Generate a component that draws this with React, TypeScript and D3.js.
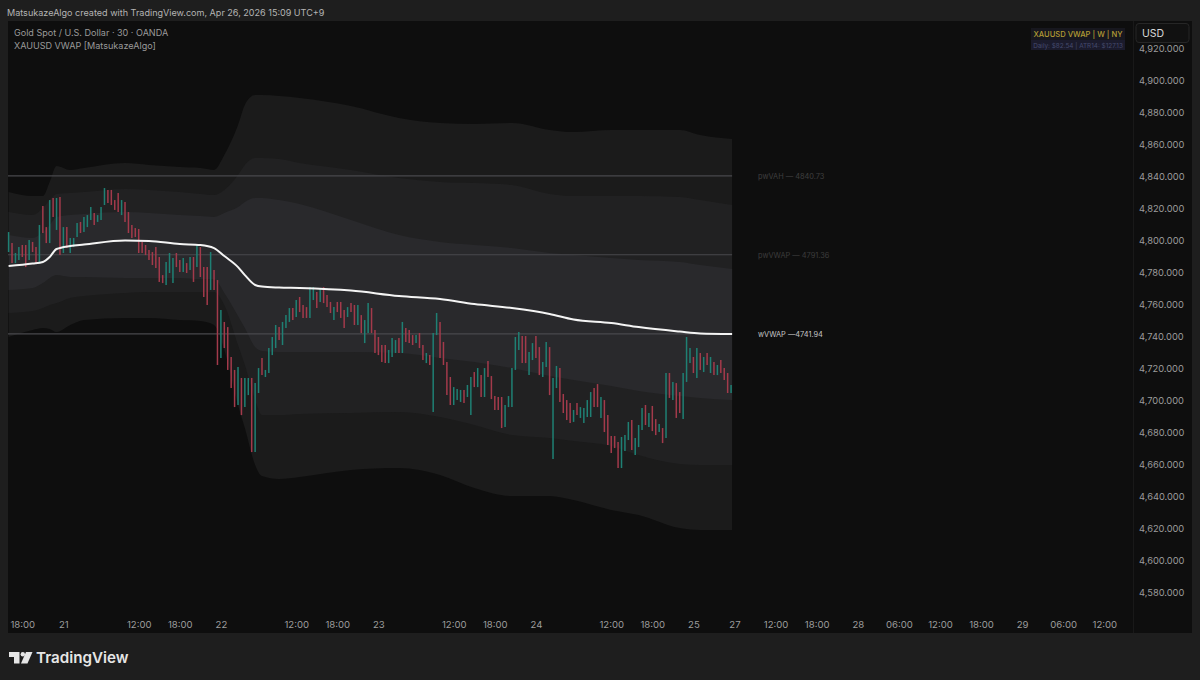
import * as d3 from "d3";
import { useEffect, useRef } from "react";

// 30 minute bars
const barHigh = [
  4805.6, 4798.7, 4792.5, 4796.2, 4797.5, 4797.5, 4800.6, 4799.4, 4796.2, 4810, 4821.9, 4808.7, 4825.6, 4826.9, 4826.9, 4827.5,
  4808.7, 4808.7, 4801.9, 4801.9, 4811.2, 4811.9, 4815, 4816.2, 4821.2, 4817.5, 4816.2, 4821.2, 4833.1, 4831.9, 4831.9, 4825.6,
  4830, 4825.6, 4824.4, 4818.1, 4810, 4808.1, 4807.5, 4799.4, 4797.5, 4794.4, 4793.1, 4796.2, 4790, 4778.7, 4786.9, 4792.5,
  4789.4, 4792.5, 4788.1, 4789.4, 4786.2, 4790, 4790, 4797.5, 4796.2, 4783.7, 4783.7, 4793.1, 4781.9, 4775.6, 4756.9, 4749.4,
  4746.2, 4727.5, 4719.4, 4721.2, 4714.4, 4714.4, 4714.4, 4714.4, 4711.2, 4720.6, 4726.9, 4719.4, 4733.1, 4740, 4747.5, 4746.2,
  4749.4, 4753.7, 4758.1, 4758.1, 4763.1, 4765, 4760, 4758.7, 4771.2, 4771.2, 4768.1, 4770.6, 4771.2, 4766.2, 4761.9, 4758.7,
  4761.9, 4761.9, 4756.9, 4758.7, 4761.2, 4760, 4760, 4753.7, 4750.6, 4761.2, 4758.1, 4744.4, 4740, 4735, 4735, 4731.9,
  4739.4, 4738.1, 4739.4, 4749.4, 4745.6, 4744.4, 4741.2, 4741.2, 4742.5, 4735, 4730, 4728.7, 4742.5, 4755, 4749.4, 4736.9,
  4724.4, 4715, 4708.7, 4707.5, 4706.9, 4706.9, 4710, 4715, 4718.1, 4720.6, 4716.2, 4720.6, 4725, 4715.6, 4703.1, 4702.5,
  4702.5, 4697.5, 4703.1, 4720.6, 4740, 4743.1, 4740.6, 4740.6, 4730.6, 4736.2, 4740.6, 4733.7, 4724.4, 4736.9, 4733.7, 4714.4,
  4721.9, 4720.6, 4704.4, 4700.6, 4698.7, 4694.4, 4698.7, 4696.2, 4695.6, 4700.6, 4705.6, 4708.1, 4710.6, 4702.5, 4700.6, 4691.2,
  4678.1, 4678.1, 4674.4, 4677.5, 4678.7, 4686.9, 4688.1, 4676.9, 4685, 4695.6, 4697.5, 4692.5, 4696.9, 4688.7, 4685.6, 4683.1,
  4717.5, 4717.5, 4711.9, 4711.2, 4705.6, 4717.5, 4740, 4733.1, 4727.5, 4733.1, 4730, 4727.5, 4730, 4727.5, 4724.4, 4722.5,
  4725.6, 4720.6, 4717.5, 4710,
];
const barLow = [
  4793.1, 4786.2, 4786.2, 4788.1, 4790, 4783.7, 4788.1, 4793.1, 4786.2, 4786.9, 4805, 4798.7, 4798.7, 4815, 4806.9, 4791.2,
  4792.5, 4795.6, 4792.5, 4796.2, 4802.5, 4805, 4805.6, 4808.7, 4813.1, 4810, 4811.9, 4813.1, 4822.5, 4823.7, 4822.5, 4819.4,
  4818.1, 4816.2, 4811.9, 4805, 4801.9, 4802.5, 4792.5, 4792.5, 4791.2, 4788.1, 4785, 4783.1, 4774.4, 4773.7, 4772.5, 4780,
  4773.7, 4783.7, 4780.6, 4780.6, 4780, 4781.9, 4774.4, 4783.7, 4777.5, 4765, 4760, 4769.4, 4769.4, 4722.5, 4726.9, 4733.1,
  4719.4, 4708.1, 4696.2, 4697.5, 4691.2, 4696.2, 4703.7, 4668.1, 4668.1, 4705, 4716.2, 4715, 4717.5, 4728.7, 4733.1, 4738.1,
  4735, 4745.6, 4749.4, 4750.6, 4752.5, 4755.6, 4751.9, 4751.9, 4751.9, 4763.1, 4758.1, 4761.9, 4761.2, 4758.7, 4755, 4750.6,
  4755.6, 4751.9, 4745.6, 4752.5, 4755.6, 4747.5, 4747.5, 4742.5, 4736.2, 4742.5, 4742.5, 4730, 4728.7, 4724.4, 4723.7, 4723.7,
  4727.5, 4730, 4730, 4730, 4736.9, 4736.2, 4735, 4736.2, 4733.1, 4725.6, 4723.7, 4722.5, 4693.1, 4741.2, 4726.9, 4722.5,
  4703.7, 4697.5, 4697.5, 4700.6, 4699.4, 4698.7, 4702.5, 4691.2, 4708.7, 4708.7, 4702.5, 4702.5, 4715, 4701.2, 4694.4, 4694.4,
  4683.1, 4683.7, 4696.2, 4696.2, 4719.4, 4731.9, 4723.7, 4723.7, 4716.2, 4725.6, 4726.9, 4716.2, 4715, 4721.2, 4703.7, 4663.7,
  4708.1, 4699.4, 4692.5, 4688.1, 4686.2, 4686.9, 4691.2, 4689.4, 4686.2, 4690, 4690, 4696.2, 4696.2, 4689.4, 4680.6, 4672.5,
  4667.5, 4670.6, 4658.1, 4658.1, 4668.7, 4675.6, 4669.4, 4666.2, 4671.2, 4681.9, 4685, 4683.7, 4681.2, 4678.7, 4680.6, 4673.7,
  4676.9, 4701.9, 4700.6, 4689.4, 4692.5, 4688.7, 4711.9, 4723.7, 4717.5, 4714.4, 4719.4, 4718.1, 4722.5, 4717.5, 4716.2, 4716.2,
  4717.5, 4713.1, 4705, 4705,
];
// the bars that closed up, everything else is red
const upBars = [
  0, 2, 3, 6, 9, 12, 14, 16, 18, 19, 20, 22, 23, 24, 26, 27, 28, 33, 46, 47, 48, 51, 53, 55, 59, 62, 67, 69, 70, 72, 73, 75, 76,
  77, 78, 80, 81, 82, 84, 88, 89, 91, 95, 99, 102, 104, 105, 111, 112, 113, 115, 119, 122, 124, 125, 130, 131, 132, 134, 135,
  137, 139, 145, 146, 147, 148, 149, 152, 153, 156, 157, 159, 160, 165, 167, 168, 169, 170, 173, 179, 180, 181, 183, 184, 185,
  187, 190, 192, 194, 197, 198, 199, 201, 203, 205, 207, 211,
];

// VWAP and its bands, read at these bars
const bandBars = [0, 7, 10, 12, 14, 18, 22, 34, 41, 50, 56, 60, 63, 67, 69, 72, 74, 79, 85, 100, 114, 126, 136, 147, 158, 165, 176, 184, 196, 202, 211.3];
const vwap = [4784.4, 4785.9, 4786.9, 4790, 4795, 4796.9, 4797.8, 4800.3, 4800, 4798.1, 4797.5, 4795.6, 4790.6, 4783.7, 4778.7, 4772.5, 4771.5, 4770.9, 4770.6, 4769, 4765.6, 4763.7, 4760.6, 4758.1, 4754.4, 4750.9, 4748.7, 4746.2, 4743.4, 4742.2, 4741.9];
const upper1 = [4803.7, 4801.9, 4805.6, 4810, 4815, 4816.2, 4816.9, 4818.1, 4817.5, 4816.2, 4815.6, 4815, 4817.5, 4821.2, 4824.4, 4826.9, 4826.9, 4825.6, 4823.1, 4813.1, 4803.7, 4799.4, 4797.5, 4795.6, 4792.5, 4791.2, 4789.4, 4788.1, 4786.9, 4785, 4782.5];
const upper2 = [4818.1, 4816.2, 4820.6, 4825.6, 4829.4, 4830, 4830.6, 4832.5, 4831.9, 4830.6, 4829.4, 4828.7, 4831.9, 4841.2, 4847.5, 4851.9, 4851.9, 4851.2, 4848.7, 4844.4, 4839.4, 4836.9, 4836.2, 4835, 4829.4, 4828.1, 4828.1, 4828.1, 4827.5, 4825.6, 4822.5];
const upper3 = [4830.6, 4828.1, 4828.1, 4836.9, 4846.9, 4844.4, 4845.6, 4848.7, 4847.5, 4846.2, 4845.6, 4844.4, 4853.7, 4872.5, 4885, 4891.2, 4891.2, 4890.6, 4889.4, 4884.4, 4876.9, 4873.7, 4873.1, 4873.7, 4869.4, 4868.1, 4869.4, 4869.4, 4869.4, 4866.2, 4863.7];
const lower1 = [4769.4, 4770.6, 4773.7, 4776.9, 4778.7, 4777.5, 4777.5, 4776.9, 4776.9, 4776.9, 4776.2, 4776.2, 4767.5, 4753.1, 4745.6, 4733.7, 4731.2, 4730.6, 4730.6, 4730.6, 4730, 4726.9, 4724.4, 4720.6, 4715.6, 4713.1, 4709.4, 4706.2, 4703.1, 4701.9, 4700.6];
const lower2 = [4755, 4756.2, 4758.1, 4760, 4761.2, 4764.4, 4765.6, 4767.5, 4768.1, 4768.1, 4768.1, 4768.1, 4760, 4735, 4722.5, 4700.6, 4691.2, 4691.2, 4691.9, 4692.5, 4693.1, 4690, 4685, 4678.7, 4676.9, 4675, 4671.9, 4666.2, 4660.6, 4660, 4660];
const lower3 = [4740, 4744.4, 4745.6, 4745, 4743.1, 4747.5, 4750.6, 4751.9, 4751.9, 4750.6, 4750, 4747.5, 4731.9, 4697.5, 4683.1, 4660, 4653.1, 4651.2, 4652.5, 4656.9, 4658.1, 4653.7, 4645.6, 4640.6, 4640.6, 4638.1, 4631.9, 4628.7, 4620.6, 4619.4, 4619.4];

// last week's levels and this week's VWAP
const levelValues = [4840.73, 4791.36, 4741.94];
const levelLabels = ["pwVAH — 4840.73", "pwVWAP — 4791.36", "wVWAP —4741.94"];
const levelLabelColors = ["#3f3f3f", "#3c3c3c", "#c4c4c4"];

const priceTicks = [4920, 4900, 4880, 4860, 4840, 4820, 4800, 4780, 4760, 4740, 4720, 4700, 4680, 4660, 4640, 4620, 4600, 4580];
const timeTickBars = [4, 16, 38, 50, 62, 84, 96, 108, 130, 142, 154, 176, 188, 200, 212, 224, 236, 248, 260, 272, 284, 296, 308, 320];
const timeTickLabels = ["18:00", "21", "12:00", "18:00", "22", "12:00", "18:00", "23", "12:00", "18:00", "24", "12:00", "18:00", "25", "27", "12:00", "18:00", "28", "06:00", "12:00", "18:00", "29", "06:00", "12:00"];

const FONT = "Inter, 'Noto Sans', sans-serif";

export default function App() {
  const svgRef = useRef(null);

  useEffect(() => {
    const w = 1200;
    const h = 680;
    const svg = d3.select(svgRef.current).attr("width", w).attr("height", h);
    svg.selectAll("*").remove();

    const xScale = d3.scaleLinear().domain([0, 320]).range([8.6, 1104.3]);
    const yScale = d3.scaleLinear().domain([4580, 4920]).range([593, 49]);

    svg.append("rect").attr("width", w).attr("height", h).attr("fill", "#1e1e1e");
    svg.append("rect").attr("x", 8).attr("y", 21).attr("width", 1184).attr("height", 612).attr("fill", "#0e0e0e");
    svg.append("line").attr("x1", 1133.5).attr("x2", 1133.5).attr("y1", 21).attr("y2", 633).attr("stroke", "#191919");

    // header
    svg.append("text").attr("x", 7).attr("y", 15.5).attr("font-size", 9.05).attr("fill", "#b4b4b4").text("MatsukazeAlgo created with TradingView.com, Apr 26, 2026 15:09 UTC+9");
    svg.append("text").attr("x", 14).attr("y", 35.5).attr("font-size", 9.05).attr("fill", "#9a9a9a").text("Gold Spot / U.S. Dollar · 30 · OANDA");
    svg.append("text").attr("x", 14).attr("y", 48.5).attr("font-size", 9.05).attr("fill", "#9a9a9a").text("XAUUSD VWAP [MatsukazeAlgo]");

    // bands, widest first
    const bands = [
      { top: upper3, bottom: lower3, fill: "#1b1b1b" },
      { top: upper2, bottom: lower2, fill: "#212122" },
      { top: upper1, bottom: lower1, fill: "#29292c" },
    ];
    bands.forEach((b) => {
      const area = d3
        .area<number>()
        .x((d) => xScale(d))
        .y0((_, i) => yScale(b.bottom[i]))
        .y1((_, i) => yScale(b.top[i]))
        .curve(d3.curveMonotoneX);
      svg.append("path").attr("d", area(bandBars)).attr("fill", b.fill);
    });

    // weekly levels
    svg
      .selectAll(".level")
      .data(levelValues)
      .enter()
      .append("line")
      .attr("x1", 8)
      .attr("x2", xScale(211.3))
      .attr("y1", (d) => yScale(d))
      .attr("y2", (d) => yScale(d))
      .attr("stroke", "#48484c")
      .attr("stroke-width", 1.1);
    svg
      .selectAll(".level-label")
      .data(levelLabels)
      .enter()
      .append("text")
      .attr("x", 758)
      .attr("y", (_, i) => yScale(levelValues[i]) + 3.2)
      .attr("font-size", 7.4)
      .attr("fill", (_, i) => levelLabelColors[i])
      .text((d) => d);

    // price bars
    svg
      .selectAll(".bar")
      .data(barHigh)
      .enter()
      .append("line")
      .attr("x1", (_, i) => xScale(i))
      .attr("x2", (_, i) => xScale(i))
      .attr("y1", (d) => yScale(d))
      .attr("y2", (_, i) => yScale(barLow[i]))
      .attr("stroke", (_, i) => (upBars.includes(i) ? "#1f8074" : "#a33a4b"))
      .attr("stroke-width", 1.5);

    const vwapLine = d3
      .line<number>()
      .x((d) => xScale(d))
      .y((_, i) => yScale(vwap[i]))
      .curve(d3.curveMonotoneX);
    svg.append("path").attr("d", vwapLine(bandBars)).attr("fill", "none").attr("stroke", "#f4f4f4").attr("stroke-width", 2);

    // axes
    const yAxis = d3.axisRight(yScale).tickValues(priceTicks).tickFormat(d3.format(",.3f")).tickSize(0).tickPadding(0);
    const yG = svg.append("g").attr("transform", "translate(1139,0)").call(yAxis);
    const xAxis = d3
      .axisBottom(xScale)
      .tickValues(timeTickBars)
      .tickFormat((_, i) => timeTickLabels[i])
      .tickSize(0)
      .tickPadding(0);
    const xG = svg.append("g").attr("transform", "translate(0,621.5)").call(xAxis);
    yG.select(".domain").remove();
    xG.select(".domain").remove();
    yG.selectAll("text").attr("font-size", 9.3).attr("fill", "#9c9c9c");
    xG.selectAll("text").attr("font-size", 9.6).attr("fill", "#9c9c9c");

    // info table, top right
    svg.append("rect").attr("x", 1031).attr("y", 28).attr("width", 94).attr("height", 12).attr("fill", "#17171e");
    svg.append("rect").attr("x", 1031).attr("y", 40).attr("width", 94).attr("height", 10).attr("fill", "#1b1b2c");
    svg.append("text").attr("x", 1078).attr("y", 37).attr("text-anchor", "middle").attr("font-size", 7.6).attr("font-weight", 500).attr("fill", "#b39c34").text("XAUUSD VWAP | W | NY");
    svg.append("text").attr("x", 1078).attr("y", 47.5).attr("text-anchor", "middle").attr("font-size", 6.4).attr("fill", "#454a6c").text("Daily: $82.54 | ATR14: $127.13");

    svg.append("rect").attr("x", 1136).attr("y", 23.5).attr("width", 53).attr("height", 19).attr("rx", 3).attr("fill", "#111").attr("stroke", "#262626");
    svg.append("text").attr("x", 1142).attr("y", 37).attr("font-size", 10.5).attr("fill", "#d8d8d8").text("USD");

    // TradingView mark
    const logo = svg.append("g").attr("fill", "#e6e6e6");
    logo.append("path").attr("d", "M9 652h10.5v11.5h-5.5v-6.5h-5z");
    logo.append("circle").attr("cx", 22.8).attr("cy", 654.2).attr("r", 2.2);
    logo.append("path").attr("d", "M26 652h6.5l-5 11.5h-6.5z");
    svg.append("text").attr("x", 36).attr("y", 663).attr("font-size", 15.2).attr("font-weight", 600).attr("fill", "#e6e6e6").text("TradingView");

    svg.selectAll("text").style("font-family", FONT);
  }, []);

  return <svg ref={svgRef} style={{ position: "fixed", left: 0, top: 0 }}></svg>;
}
